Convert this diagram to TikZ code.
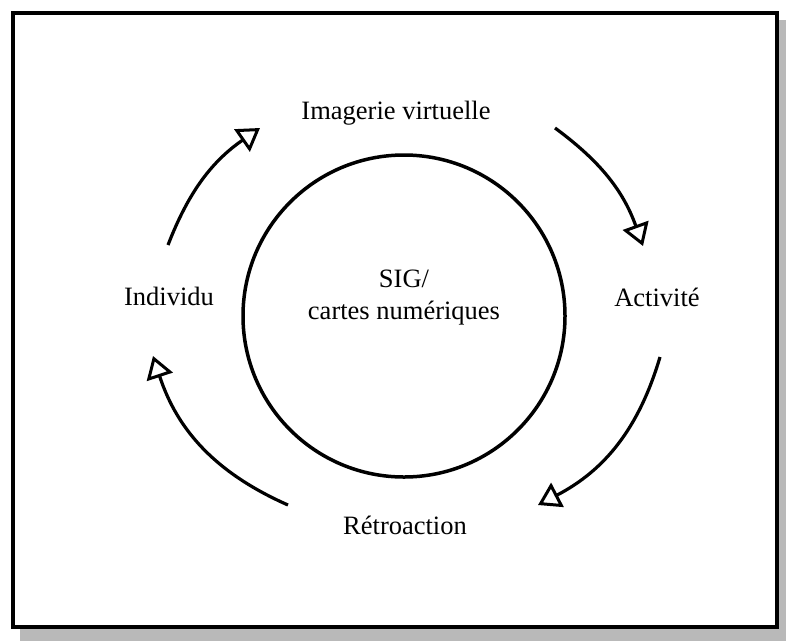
\documentclass[tikz,border=0pt]{standalone}
\usepackage{fontspec}
\setmainfont{Liberation Serif}
\usetikzlibrary{arrows.meta}
\begin{document}
\begin{tikzpicture}[x=1pt,y=-1pt,
  lbl/.style={font=\fontsize{26.5}{32}\selectfont, inner sep=0pt},
  cycle/.style={line width=3.2pt, -{Triangle[open, length=22pt, width=27pt, line width=3pt]}}]
  \useasboundingbox (0,0) rectangle (786,641);
  % drop shadow and frame
  \fill[gray!55] (20,20) rectangle (786,641);
  \draw[line width=4.5pt, fill=white] (13,13) rectangle (777,627);
  % central circle
  \draw[line width=3.5pt] (404,316) circle[radius=161];
  % labels
  \node[lbl] (top) at (396,113) {Imagerie virtuelle};
  \node[lbl] (right) at (657,297) {Activité};
  \node[lbl] (left) at (169,296) {Individu};
  \node[lbl] (bottom) at (405,525) {Rétroaction};
  \node[lbl, align=center] (mid) at (404,298) {SIG/\\cartes numériques};
  % arrow ends
  \coordinate (a1s) at (168,245); \coordinate (a1e) at (260,128);
  \coordinate (a2s) at (555,128); \coordinate (a2e) at (643,246);
  \coordinate (a3s) at (660,357); \coordinate (a3e) at (538,505);
  \coordinate (a4s) at (288,505); \coordinate (a4e) at (153,356);
  % cycle arrows
  \draw[cycle] (a1s) to[bend left=17] (a1e);
  \draw[cycle] (a2s) to[bend left=17] (a2e);
  \draw[cycle] (a3s) to[bend left=23] (a3e);
  \draw[cycle] (a4s) to[bend left=24] (a4e);
\end{tikzpicture}
\end{document}
